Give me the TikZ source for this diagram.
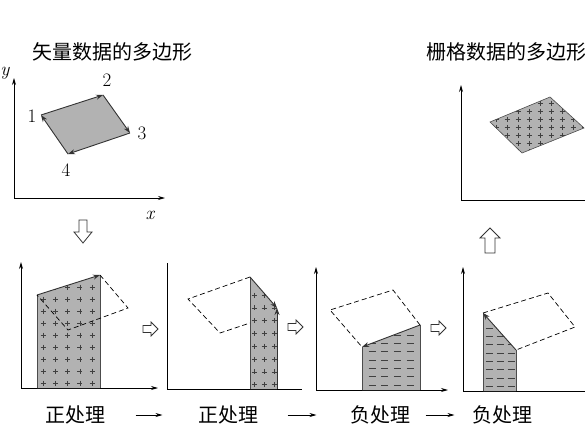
\documentclass[tikz,border=0pt]{standalone}
\usepackage{fontspec}
\newfontfamily\cjk{Noto Sans CJK SC}
\usetikzlibrary{arrows.meta}

\tikzset{
  axis/.style={line width=0.8pt,-{Stealth[length=7pt,width=4pt]}},
  tip/.style={draw=black!80,line width=0.9pt,-{Stealth[length=7pt,width=5pt]}},
  area/.style={fill=black!30},
  side/.style={draw=black!70,line width=0.6pt},
  ghost/.style={dash pattern=on 5pt off 3pt,line width=0.7pt},
  title/.style={font=\cjk\fontsize{20}{24}\selectfont},
  num/.style={font=\fontsize{19}{22}\selectfont},
  var/.style={font=\fontsize{19}{22}\selectfont\itshape},
  hollow/.style={draw=black!80,fill=white,line width=0.8pt,line join=miter},
  cell/.style={black!75,line width=0.45pt},
  flow/.style={line width=0.7pt,-{Stealth[length=7pt,width=4pt]}},
}

\begin{document}
\begin{tikzpicture}[x=1pt,y=-1pt]
	\useasboundingbox[fill=white] (0,0) rectangle (585,439);

	% vector polygon
	\node[title] (tvec) at (112,52) {矢量数据的多边形};
	\draw[axis] (14,198) -- (14,78);
	\draw[axis] (14,198) -- (165,198);
	\node[var,inner sep=1pt] (ly) at (5,73) {y};
	\node[var] (lx) at (150,215) {x};

	\coordinate (p1) at (41,115);
	\coordinate (p2) at (103,95);
	\coordinate (p3) at (130,133);
	\coordinate (p4) at (68,154);
	\fill[area] (p1) -- (p2) -- (p3) -- (p4) -- cycle;
	\draw[tip] (p1) -- (p2);
	\draw[tip] (p2) -- (p3);
	\draw[tip] (p3) -- (p4);
	\draw[tip] (p4) -- (p1);
	\node[num] (n1) at (32,116) {1};
	\node[num] (n2) at (107,80) {2};
	\node[num] (n3) at (142,133) {3};
	\node[num] (n4) at (66,170) {4};

	\draw[hollow] (79,220) -- (87,220) -- (87,232) -- (92,232) -- (83,243) -- (74,232) -- (79,232) -- cycle;

	% raster polygon
	\node[title] (tras) at (506,52) {栅格数据的多边形};
	\draw[axis] (461,200) -- (461,85);
	\draw[line width=0.8pt] (461,200) -- (590,200);
	\fill[area] (490,122) -- (550,97) -- (584,128) -- (522,153) -- cycle;
	\draw[side] (490,122) -- (550,97) -- (584,128) -- (522,153) -- cycle;
	\begin{scope}
		\clip (490,122) -- (550,97) -- (584,128) -- (522,153) -- cycle;
		\foreach \x in {496,507,...,584}
			\foreach \y in {103,111,...,152}
				\draw[cell] (\x-2.5,\y) -- (\x+2.5,\y) (\x,\y-2.5) -- (\x,\y+2.5);
	\end{scope}

	\draw[hollow] (485,253) -- (495,253) -- (495,238) -- (500,238) -- (490,228) -- (480,238) -- (485,238) -- cycle;

	% panel 1
	\draw[axis] (21,388) -- (21,262);
	\draw[axis] (21,388) -- (158,388);
	\fill[area] (37,388) -- (37,295) -- (100,275) -- (100,388) -- cycle;
	\begin{scope}
		\clip (37,388) -- (37,295) -- (100,275) -- (100,388) -- cycle;
		\foreach \x in {43,55.3,...,95}
			\foreach \y in {287,299,...,386}
				\draw[cell] (\x-2.5,\y) -- (\x+2.5,\y) (\x,\y-2.5) -- (\x,\y+2.5);
	\end{scope}
	\draw[side] (37,388) -- (37,295);
	\draw[side] (100,275) -- (100,388);
	\draw[tip] (37,295) -- (100,275);
	\draw[ghost] (100,275) -- (128,308) -- (68,330) -- (37,295);

	\draw[hollow] (143,325.5) -- (151,325.5) -- (151,322) -- (158,329) -- (151,336) -- (151,332.5) -- (143,332.5) -- cycle;

	% panel 2
	\draw[line width=0.8pt] (167,263) -- (167,389) -- (302,389);
	\fill[area] (250,389) -- (250,277) -- (277,308) -- (277,389) -- cycle;
	\begin{scope}
		\clip (250,389) -- (250,277) -- (277,308) -- (277,389) -- cycle;
		\foreach \x in {254,264,274}
			\foreach \y in {295,307.8,...,388}
				\draw[cell] (\x-2.5,\y) -- (\x+2.5,\y) (\x,\y-2.5) -- (\x,\y+2.5);
	\end{scope}
	\draw[side] (250,389) -- (250,277);
	\draw[tip] (250,277) -- (277,308);
	\draw[tip] (277,389) -- (277,308);
	\draw[ghost] (250,277) -- (188,299) -- (220,333) -- (250,323);

	\draw[hollow] (288,323.5) -- (296,323.5) -- (296,320) -- (303,327) -- (296,334) -- (296,330.5) -- (288,330.5) -- cycle;

	% panel 3
	\draw[axis] (316,390) -- (316,267);
	\draw[axis] (316,390) -- (448,390);
	\fill[area] (362,390) -- (362,347) -- (420,325) -- (420,390) -- cycle;
	\begin{scope}
		\clip (362,390) -- (362,347) -- (420,325) -- (420,390) -- cycle;
		\foreach \x in {372,384.7,...,420}
			\foreach \y in {335,343.3,...,389}
				\draw[cell] (\x-3.5,\y) -- (\x+3.5,\y);
	\end{scope}
	\draw[side] (362,390) -- (362,347);
	\draw[side] (420,325) -- (420,390);
	\draw[tip] (420,325) -- (362,347);
	\draw[ghost] (420,325) -- (393,290) -- (330,310) -- (362,347);

	\draw[hollow] (431,324.5) -- (439,324.5) -- (439,321) -- (446,328) -- (439,335) -- (439,331.5) -- (431,331.5) -- cycle;

	% panel 4
	\draw[axis] (463,391) -- (463,267);
	\draw[line width=0.8pt] (463,391) -- (590,391);
	\fill[area] (483,391) -- (483,313) -- (516,350) -- (516,391) -- cycle;
	\begin{scope}
		\clip (483,391) -- (483,313) -- (516,350) -- (516,391) -- cycle;
		\foreach \x in {489,500,511}
			\foreach \y in {328,336.3,...,390}
				\draw[cell] (\x-3.5,\y) -- (\x+3.5,\y);
	\end{scope}
	\draw[side] (483,391) -- (483,313);
	\draw[side] (516,350) -- (516,391);
	\draw[tip] (516,350) -- (483,313);
	\draw[ghost] (483,313) -- (548,293) -- (575,327) -- (516,350);

	% steps
	\node[title] (s1) at (75,415) {正处理};
	\node[title] (s2) at (228,415) {正处理};
	\node[title] (s3) at (380,415) {负处理};
	\node[title] (s4) at (502,415) {负处理};
	\draw[flow,shorten <=27pt,shorten >=32pt] (s1) -- (s2);
	\draw[flow,shorten <=26pt,shorten >=30pt] (s2) -- (s3);
	\draw[flow,shorten <=12pt,shorten >=14pt] (s3) -- (s4);
\end{tikzpicture}
\end{document}
